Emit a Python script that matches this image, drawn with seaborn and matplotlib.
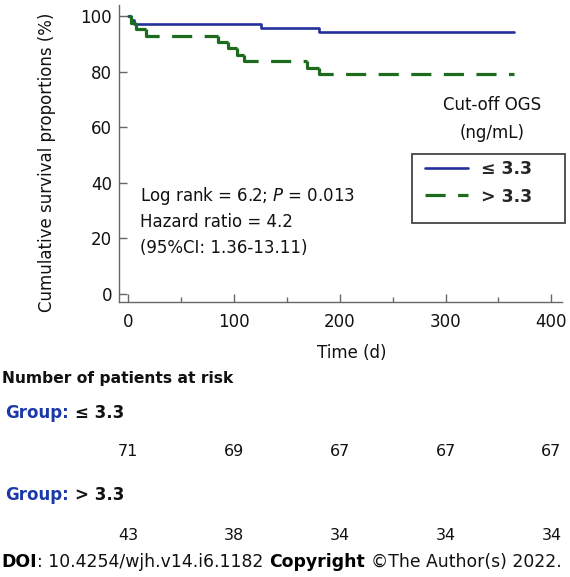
import pandas as pd
import matplotlib.pyplot as plt
import matplotlib.transforms as mtransforms
from matplotlib.patches import Rectangle
import seaborn as sns

# Kaplan-Meier steps
low_days = [0, 3, 6, 126, 180, 365]
low_surv = [100, 98.6, 97.2, 95.8, 94.4, 94.4]
high_days = [0, 3, 8, 17, 85, 94, 103, 110, 169, 180, 365]
high_surv = [100, 97.7, 95.3, 93.0, 90.7, 88.4, 86.0, 83.7, 81.4, 79.1, 79.1]

# Number at risk table
risk_times = [0, 100, 200, 300, 400]
risk_low = [71, 69, 67, 67, 67]
risk_high = [43, 38, 34, 34, 34]

group_labels = ["\u2264 3.3", "> 3.3"]

W, H = 570, 577
sns.set_style("ticks")
plt.rcParams['font.family'] = ['DejaVu Sans']
plt.rcParams['mathtext.fontset'] = 'dejavusans'

fig = plt.figure(figsize=(W / 100, H / 100), dpi=100)
ax = fig.add_axes([119 / W, 1 - 302 / H, (562 - 119) / W, (302 - 5) / H])

low = pd.DataFrame({'Time': low_days, 'Survival': low_surv})

# the dashed curve is drawn one step at a time (drop + flat part),
# so the dash pattern restarts at every event like in the original
rows = []
for i in range(len(high_days) - 1):
    prev = high_surv[i - 1] if i > 0 else high_surv[i]
    rows.append((i, high_days[i], prev))
    rows.append((i, high_days[i], high_surv[i]))
    rows.append((i, high_days[i + 1], high_surv[i]))
high = pd.DataFrame(rows, columns=['step', 'Time', 'Survival'])

blue = "#25319a"
green = "#1d6b1d"
sns.lineplot(x='Time', y='Survival', data=low, ax=ax, drawstyle='steps-post',
             color=blue, linewidth=1.9, errorbar=None)
n_before = len(ax.get_lines())
sns.lineplot(x='Time', y='Survival', data=high, ax=ax, units='step',
             estimator=None, sort=False, color=green, linewidth=2.3,
             linestyle=(0, (6.3, 3.9)))
lines = ax.get_lines()
handles = [lines[0], lines[n_before]]

ax.set_xlim(-8.5, 410)
ax.set_ylim(-2.9, 104)
ax.set_xticks(risk_times)
ax.set_xticks([50, 150, 250, 350], minor=True)
ax.set_yticks([0, 20, 40, 60, 80, 100])
sns.despine(ax=ax)
for sp in ['left', 'bottom']:
    ax.spines[sp].set_color('#666666')
    ax.spines[sp].set_linewidth(1.0)
ax.tick_params(axis='both', which='major', direction='in', length=6, width=1,
               color='#666666', labelsize=12, labelcolor='#111111')
ax.tick_params(axis='x', which='major', pad=8)
ax.tick_params(axis='y', which='major', pad=5)
ax.tick_params(axis='x', which='minor', direction='in', length=3.5, width=1,
               color='#666666')
ax.set_xlabel("")
ax.set_ylabel("")

# axis titles
fig.text(47 / W, 1 - 162 / H, "Cumulative survival proportions (%)", rotation=90,
         ha='center', va='center', fontsize=12, color='#111111')
fig.text(352 / W, 1 - 353 / H, "Time (d)", ha='center', va='center',
         fontsize=12, color='#111111')

# statistics
fig.text(140 / W, 1 - 196 / H, r"Log rank = 6.2; $\it{P}$ = 0.013",
         ha='left', va='center', fontsize=12, color='#111111')
fig.text(140 / W, 1 - 222 / H, "Hazard ratio = 4.2",
         ha='left', va='center', fontsize=12, color='#111111')
fig.text(140 / W, 1 - 248 / H, "(95%CI: 1.36-13.11)",
         ha='left', va='center', fontsize=12, color='#111111')

# legend
fig.text(492 / W, 1 - 105 / H, "Cut-off OGS", ha='center', va='center',
         fontsize=12, color='#111111')
fig.text(492 / W, 1 - 133 / H, "(ng/mL)", ha='center', va='center',
         fontsize=12, color='#111111')
fig.patches.append(Rectangle((411.5 / W, 1 - 223 / H), (565 - 411.5) / W, (223 - 153.5) / H,
                             transform=fig.transFigure, fill=False,
                             edgecolor='#444444', linewidth=1.3))
ax.legend(handles, group_labels, loc='upper left', bbox_to_anchor=(425 / W, 1 - 160 / H),
          bbox_transform=fig.transFigure, frameon=False, borderpad=0,
          borderaxespad=0, handlelength=2.5, handletextpad=0.75,
          labelspacing=0.55, prop={'weight': 'bold', 'size': 12.5})

renderer = fig.canvas.get_renderer()


def text_row(pieces, x_px, y_px, size):
    x = x_px / W
    for txt, weight, color, gap in pieces:
        t = fig.text(x, 1 - y_px / H, txt, ha='left', va='center', fontsize=size,
                     fontweight=weight, color=color)
        x += t.get_window_extent(renderer=renderer).width / W + gap / W


group_blue = "#1c39a8"
fig.text(2 / W, 1 - 379 / H, "Number of patients at risk", ha='left', va='center',
         fontsize=11.2, fontweight='bold', color='#111111')
text_row([("Group:", 'bold', group_blue, 6), (group_labels[0], 'bold', '#111111', 0)],
         5, 413, 12)
text_row([("Group:", 'bold', group_blue, 6), (group_labels[1], 'bold', '#111111', 0)],
         5, 495, 12)

trans = mtransforms.blended_transform_factory(ax.transData, fig.transFigure)
for t, n in zip(risk_times, risk_low):
    ax.text(t, 1 - 452 / H, str(n), transform=trans, ha='center', va='center',
            fontsize=11.5, color='#111111', clip_on=False)
for t, n in zip(risk_times, risk_high):
    ax.text(t, 1 - 535 / H, str(n), transform=trans, ha='center', va='center',
            fontsize=11.5, color='#111111', clip_on=False)

text_row([("DOI", 'bold', '#000000', 0),
          (": 10.4254/wjh.v14.i6.1182", 'normal', '#111111', 6),
          ("Copyright", 'bold', '#000000', 6),
          ("\u00a9The Author(s) 2022.", 'normal', '#111111', 0)],
         1, 562, 12.4)

fig.savefig("out.png", dpi=100)
